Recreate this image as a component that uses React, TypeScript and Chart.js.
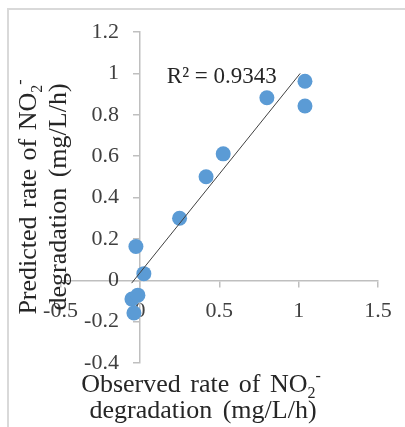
import React, { useEffect, useRef } from "react";
import { Chart, registerables } from "chart.js";

Chart.register(...registerables);

// ---- data ----
const observedRate = [-0.025, 0.025, 0.25, 0.417, 0.525, 0.8, 1.04, 1.04, -0.05, -0.0125, -0.0375];
const predictedRate = [0.163, 0.032, 0.3, 0.5, 0.611, 0.882, 0.962, 0.842, -0.091, -0.072, -0.158];
const trendObserved = [-0.052, 1.01];
const trendPredicted = [-0.014, 1.0];
const xTickValues = [-0.5, 0, 0.5, 1, 1.5];
const yTickValues = [-0.4, -0.2, 0, 0.2, 0.4, 0.6, 0.8, 1, 1.2];
const r2Text = "R² = 0.9343";

type Seg = { text: string; kind?: "sub" | "sup" };
const xTitleLines: Seg[][] = [
  [{ text: "Observed rate of NO" }, { text: "2", kind: "sub" }, { text: "-", kind: "sup" }],
  [{ text: "degradation (mg/L/h)" }],
];
const yTitleLines: Seg[][] = [
  [{ text: "Predicted rate of NO" }, { text: "2", kind: "sub" }, { text: "-", kind: "sup" }],
  [{ text: "degradation (mg/L/h)" }],
];

const FAMILY = "'Liberation Serif', 'Times New Roman', serif";
const TEXT_COLOR = "#262626";
const AXIS_COLOR = "#bfbfbf";
const TICK_COLOR = "#404040";

function segFont(s: Seg, size: number) {
  return `${s.kind ? Math.round(size * 0.62) : size}px ${FAMILY}`;
}

function measureSeg(ctx: CanvasRenderingContext2D, s: Seg, size: number, extra: number) {
  ctx.font = segFont(s, size);
  const words = s.text.split(" ");
  const sp = ctx.measureText(" ").width + extra;
  let w = 0;
  words.forEach((wd, i) => {
    w += ctx.measureText(wd).width;
    if (i < words.length - 1) w += sp;
  });
  return w;
}

function drawRich(
  ctx: CanvasRenderingContext2D,
  segs: Seg[],
  cx: number,
  baseY: number,
  size: number,
  extra: number
) {
  const widths = segs.map((s) => measureSeg(ctx, s, size, extra));
  const total = widths.reduce((a, b) => a + b, 0);
  let x = cx - total / 2;
  ctx.textAlign = "left";
  ctx.textBaseline = "alphabetic";
  segs.forEach((s, i) => {
    ctx.font = segFont(s, size);
    const dy = s.kind === "sub" ? size * 0.22 : s.kind === "sup" ? -size * 0.42 : 0;
    const words = s.text.split(" ");
    const sp = ctx.measureText(" ").width + extra;
    let wx = x;
    words.forEach((wd) => {
      ctx.fillText(wd, wx, baseY + dy);
      wx += ctx.measureText(wd).width + sp;
    });
    x += widths[i];
  });
}

const labelsPlugin = {
  id: "richLabels",
  afterDraw(chart: any) {
    const ctx: CanvasRenderingContext2D = chart.ctx;
    const xs = chart.scales.x;
    const ys = chart.scales.y;
    ctx.save();
    ctx.fillStyle = TEXT_COLOR;
    // x-axis title (two lines)
    drawRich(ctx, xTitleLines[0], 201, 392, 26, 3);
    drawRich(ctx, xTitleLines[1], 203, 418, 26, 4);
    // y-axis title (two lines, rotated)
    ctx.save();
    ctx.translate(0, 197);
    ctx.rotate(-Math.PI / 2);
    drawRich(ctx, yTitleLines[0], 0, 36, 26, 2);
    drawRich(ctx, yTitleLines[1], 0, 66, 26, 4);
    ctx.restore();
    // R² label
    ctx.font = `23px ${FAMILY}`;
    ctx.textAlign = "left";
    ctx.textBaseline = "alphabetic";
    ctx.fillText(r2Text, xs.getPixelForValue(0.17), ys.getPixelForValue(0.955));
    ctx.restore();
  },
};

const fmt = (v: number) => String(Math.round(v * 10) / 10);
const tickFont = { family: FAMILY, size: 22 };

export default function App() {
  const canvasRef = useRef<HTMLCanvasElement | null>(null);

  useEffect(() => {
    if (!canvasRef.current) return;
    const chart = new Chart(canvasRef.current, {
      type: "scatter",
      data: {
        datasets: [
          {
            label: "Trend",
            type: "line",
            data: trendObserved.map((x, i) => ({ x, y: trendPredicted[i] })),
            borderColor: "#404040",
            borderWidth: 1,
            pointRadius: 0,
            showLine: true,
            fill: false,
            order: 0,
          } as any,
          {
            label: "Rate",
            data: observedRate.map((x, i) => ({ x, y: predictedRate[i] })),
            backgroundColor: "#5b9bd5",
            borderWidth: 0,
            pointRadius: 7.5,
            pointHoverRadius: 7.5,
            order: 1,
          },
        ],
      },
      options: {
        responsive: false,
        animation: false,
        events: [],
        layout: { padding: { left: 60.5, right: 27, top: 32, bottom: 64 } },
        plugins: { legend: { display: false }, tooltip: { enabled: false } },
        scales: {
          x: {
            type: "linear",
            min: -0.5,
            max: 1.5,
            position: { y: 0 } as any,
            afterBuildTicks: (s: any) => {
              s.ticks = xTickValues.map((value) => ({ value }));
            },
            grid: { drawOnChartArea: false, drawTicks: true, tickLength: 6, color: AXIS_COLOR, lineWidth: 1.5 },
            border: { color: AXIS_COLOR, width: 1.5 },
            ticks: {
              font: tickFont,
              color: TICK_COLOR,
              padding: 12,
              maxRotation: 0,
              autoSkip: false,
              callback: (v: any) => fmt(Number(v)),
            },
          },
          y: {
            type: "linear",
            min: -0.4,
            max: 1.2,
            position: { x: 0 } as any,
            afterBuildTicks: (s: any) => {
              s.ticks = yTickValues.map((value) => ({ value }));
            },
            grid: { drawOnChartArea: false, drawTicks: true, tickLength: 6, color: AXIS_COLOR, lineWidth: 1.5 },
            border: { color: AXIS_COLOR, width: 1.5 },
            ticks: { display: false },
          },
          yLabels: {
            type: "linear",
            axis: "y",
            min: -0.4,
            max: 1.2,
            position: { x: -0.132 } as any,
            afterBuildTicks: (s: any) => {
              s.ticks = yTickValues.map((value) => ({ value }));
            },
            grid: { display: false, drawTicks: false },
            border: { display: false },
            ticks: {
              font: tickFont,
              color: TICK_COLOR,
              padding: 0,
              autoSkip: false,
              callback: (v: any) => fmt(Number(v)),
            },
          } as any,
        },
      },
      plugins: [labelsPlugin],
    });
    return () => chart.destroy();
  }, []);

  return (
    <div
      style={{
        position: "fixed",
        left: 0,
        top: 0,
        width: 405,
        height: 427,
        overflow: "hidden",
        background: "#ffffff",
      }}
    >
      <div
        style={{
          position: "absolute",
          left: 7,
          top: 8,
          width: 480,
          height: 500,
          border: "2.5px solid #d9d9d9",
          boxSizing: "border-box",
        }}
      />
      <canvas ref={canvasRef} width={405} height={427} style={{ position: "absolute", left: 0, top: 0 }} />
    </div>
  );
}
